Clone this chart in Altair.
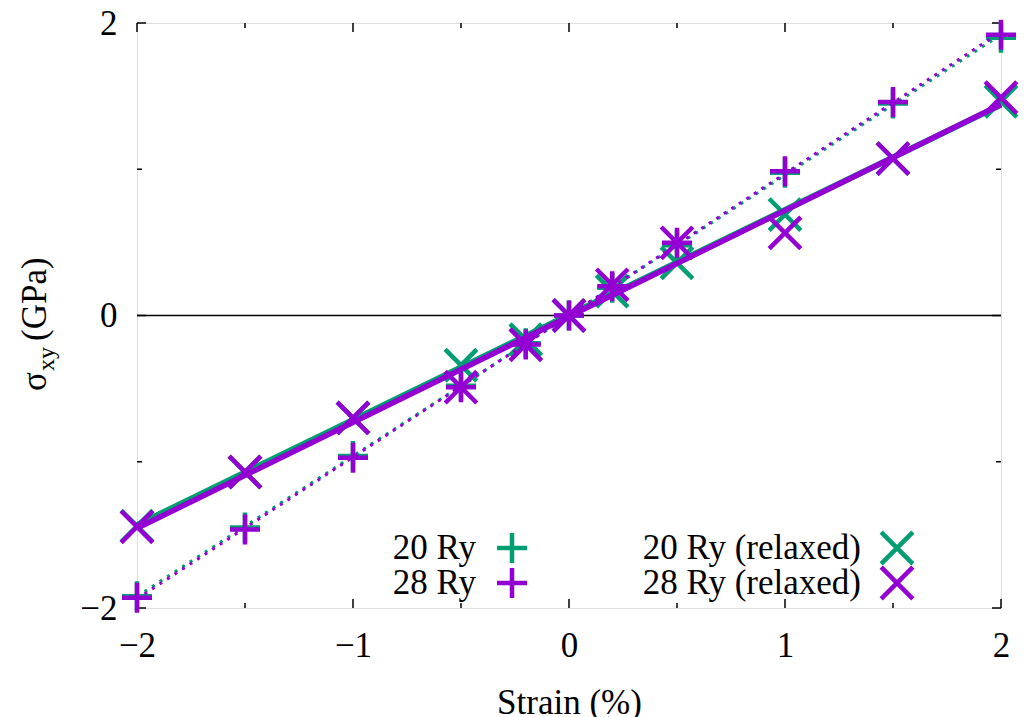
import altair as alt
import pandas as pd

strain = [-2, -1.5, -1, -0.5, -0.2, 0, 0.2, 0.5, 1, 1.5, 2]
s20 = [-1.92, -1.45, -0.96, -0.48, -0.19, 0, 0.19, 0.48, 0.976, 1.45, 1.90]
s28 = [-1.93, -1.463, -0.973, -0.49, -0.198, 0, 0.20, 0.497, 0.987, 1.46, 1.92]
r20 = [-1.44, -1.07, -0.70, -0.34, -0.165, 0, 0.166, 0.36, 0.69, 1.073, 1.465]
r28 = [-1.445, -1.07, -0.70, -0.49, -0.20, 0, 0.21, 0.497, 0.565, 1.073, 1.49]

series_names = ["20 Ry", "28 Ry", "20 Ry (relaxed)", "28 Ry (relaxed)"]
x_major = [-2, -1, 0, 1, 2]
x_minor = [-1.5, -0.5, 0.5, 1.5]
y_major = [-2, 0, 2]
y_minor = [-1, 1]

GREEN = "#009E73"
PURPLE = "#9400D3"
FONT = "Liberation Serif"
FS = 35
W, H = 864, 585

rows = []
for name, vals in zip(series_names, [s20, s28, r20, r28]):
    for xv, yv in zip(strain, vals):
        rows.append({"x": xv, "y": yv, "series": name})
df = pd.DataFrame(rows)

xs = alt.Scale(domain=[-2, 2], nice=False, zero=False)
ys = alt.Scale(domain=[-2, 2], nice=False, zero=False)

PLUS = "M-1,0L1,0M0,-1L0,1"
CROSS = "M-1,-1L1,1M1,-1L-1,1"

base = alt.Chart(df)

x_enc = alt.X("x:Q", scale=xs, axis=alt.Axis(values=x_major, format="d", ticks=False, domain=False, grid=False,
                                              labelFlush=False,
                                              labelFont=FONT, labelFontSize=FS, labelPadding=20,
                                              labelColor="black", title="Strain  (%)", titleFont=FONT,
                                              titleFontSize=FS, titleFontWeight="normal", titleColor="black",
                                              titlePadding=22))
y_enc = alt.Y("y:Q", scale=ys, axis=alt.Axis(values=y_major, format="d", ticks=False, domain=False, grid=False,
                                              labelFlush=False,
                                              labelFont=FONT, labelFontSize=FS, labelPadding=20,
                                              labelColor="black", title=None))

def pts(name, shape, color, size):
    return base.transform_filter(alt.datum.series == name).mark_point(
        shape=shape, filled=False, strokeWidth=4.5, size=size, color=color, opacity=1
    ).encode(x=x_enc, y=y_enc)

def fit(name, color, width, dash=None):
    kw = dict(color=color, strokeWidth=width)
    if dash:
        kw["strokeDash"] = dash
    return base.transform_filter(alt.datum.series == name).transform_regression(
        "x", "y", extent=[-2, 2]
    ).mark_line(**kw).encode(x=x_enc, y=y_enc)

zero_line = alt.Chart(pd.DataFrame({"y": [0]})).mark_rule(color="black", strokeWidth=1.5).encode(
    y=alt.Y("y:Q", scale=ys))

# ticks (inward, all four sides)
def xticks(vals, length):
    d = pd.DataFrame({"x": vals})
    bot = alt.Chart(d).mark_rule(color="black", strokeWidth=1.5).encode(
        x=alt.X("x:Q", scale=xs), y=alt.value(H), y2=alt.value(H - length))
    top = alt.Chart(d).mark_rule(color="black", strokeWidth=1.5).encode(
        x=alt.X("x:Q", scale=xs), y=alt.value(0), y2=alt.value(length))
    return [bot, top]

def yticks(vals, length):
    d = pd.DataFrame({"y": vals})
    left = alt.Chart(d).mark_rule(color="black", strokeWidth=1.5).encode(
        y=alt.Y("y:Q", scale=ys), x=alt.value(0), x2=alt.value(length))
    right = alt.Chart(d).mark_rule(color="black", strokeWidth=1.5).encode(
        y=alt.Y("y:Q", scale=ys), x=alt.value(W), x2=alt.value(W - length))
    return [left, right]

tick_layers = xticks(x_major, 9) + xticks(x_minor, 5) + yticks(y_major, 9) + yticks(y_minor, 5)

# legend (gnuplot style: label then symbol)
one = alt.Chart(pd.DataFrame({"a": [0]}))
def leg_text(txt, x, y):
    return one.mark_text(text=txt, font=FONT, fontSize=FS, align="right", baseline="middle",
                         color="black").encode(x=alt.value(x), y=alt.value(y))
def leg_sym(shape, color, x, y, size):
    return one.mark_point(shape=shape, filled=False, strokeWidth=4.5, size=size, color=color,
                          opacity=1).encode(x=alt.value(x), y=alt.value(y))

legend = [
    leg_text(series_names[0], 339, 525), leg_sym(PLUS, GREEN, 375, 525, 900),
    leg_text(series_names[1], 339, 560), leg_sym(PLUS, PURPLE, 375, 560, 900),
    leg_text(series_names[2], 724, 525), leg_sym(CROSS, GREEN, 760, 525, 1000),
    leg_text(series_names[3], 724, 560), leg_sym(CROSS, PURPLE, 760, 560, 1000),
]

# y-axis title with subscript
ytitle = [
    one.mark_text(text="σ", font=FONT, fontSize=FS, angle=270, align="left", baseline="alphabetic",
                  color="black").encode(x=alt.value(-91), y=alt.value(368)),
    one.mark_text(text="xy", font=FONT, fontSize=24, angle=270, align="left", baseline="alphabetic",
                  color="black").encode(x=alt.value(-83), y=alt.value(348)),
    one.mark_text(text="(GPa)", font=FONT, fontSize=FS, angle=270, align="left", baseline="alphabetic",
                  color="black").encode(x=alt.value(-91), y=alt.value(318)),
]

layers = [zero_line] + tick_layers + [
    pts("20 Ry", PLUS, GREEN, 900),
    pts("20 Ry (relaxed)", CROSS, GREEN, 1000),
    fit("20 Ry", GREEN, 3, [3, 6]),
    fit("20 Ry (relaxed)", GREEN, 6),
    pts("28 Ry", PLUS, PURPLE, 900),
    pts("28 Ry (relaxed)", CROSS, PURPLE, 1000),
    fit("28 Ry", PURPLE, 3, [3, 6]),
    fit("28 Ry (relaxed)", PURPLE, 5.5),
] + legend + ytitle

chart = alt.layer(*layers).properties(
    width=W, height=H,
    autosize=alt.AutoSizeParams(type="none"),
    padding={"left": 129, "top": 15, "right": 23, "bottom": 130},
).configure_view(stroke="black", strokeWidth=2).configure(background="white")

chart.save("out.html", embed_options={"renderer": "svg", "actions": False})
